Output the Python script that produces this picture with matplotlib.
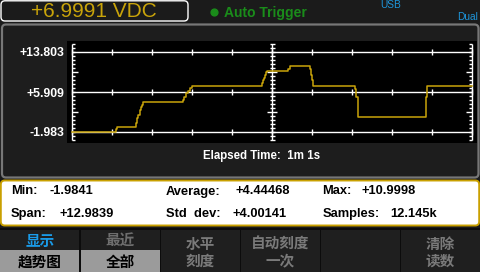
import numpy as np
import matplotlib
matplotlib.use("Agg")
import matplotlib.pyplot as plt
from matplotlib.patches import FancyBboxPatch, Rectangle, Circle

# Readings shown on the meter
reading_text = "+6.9991 VDC"
elapsed_s = 61.0

# Trend trace (seconds, volts), stepped
trace_t = [0, 6.71, 6.91, 9.71, 9.91, 10.07, 10.32, 10.48, 10.68, 10.87,
           16.97, 17.13, 17.39, 17.64, 17.95, 18.25, 29.02, 29.17, 29.33,
           29.48, 29.63, 29.78, 32.99, 33.20, 36.30, 36.45, 36.60, 36.75,
           43.16, 43.31, 43.57, 43.66, 53.94, 54.03, 54.18, 61.0]
trace_v = [-1.98, -1.47, -1.0, -0.21, 0.78, 1.29, 2.42, 2.95, 3.40, 4.0,
           4.39, 4.98, 5.71, 6.17, 6.70, 7.0, 7.68, 8.20, 8.73, 9.32, 9.78,
           10.0, 10.5, 11.0, 10.5, 9.32, 8.34, 7.0, 6.56, 4.92, 2.08, 1.0,
           1.96, 4.92, 7.0, 7.0]

# Y grid values / labels
grid_v = [-1.983, 5.909, 13.803]
grid_labels = ["-1.983", "+5.909", "+13.803"]

# Statistics panel
stat_names = [["Min:", "Average:", "Max:"], ["Span:", "Std  dev:", "Samples:"]]
stat_values = [["-1.9841", "+4.44468", "+10.9998"], ["+12.9839", "+4.00141", "12.145k"]]

# Soft keys
key_top = ["显示", "最近", "水平", "自动刻度", "", "清除"]
key_bottom = ["趋势图", "全部", "刻度", "一次", "", "读数"]

LATIN = "Liberation Sans"
CJK = ["Noto Sans CJK SC", "DejaVu Sans"]

BG = "#1b1b1b"
GOLD = "#c9a40a"
W, H = 480, 272

fig = plt.figure(figsize=(W / 100, H / 100), dpi=100, facecolor=BG)

# background layer in pixel coords (y down)
bg = fig.add_axes([0, 0, 1, 1])
bg.set_xlim(0, W)
bg.set_ylim(H, 0)
bg.axis("off")

# main panel
bg.add_patch(FancyBboxPatch((2, 24.5), 476.5, 153, boxstyle="round,pad=0,rounding_size=4",
                            fc="#1d1d1d", ec="#777777", lw=1.6))
# readout box
bg.add_patch(FancyBboxPatch((1, 0.8), 187, 20.2, boxstyle="round,pad=0,rounding_size=4",
                            fc=BG, ec="white", lw=1.0))
bg.text(94, 11.5, reading_text, color=GOLD, fontsize=15, family=LATIN,
        ha="center", va="center")
bg.add_patch(Circle((214.5, 12.5), 3.4, color="#1a8c1a"))
bg.text(224, 12.5, "Auto Trigger", color="#1a8c1a", fontsize=10, family=LATIN,
        weight="bold", ha="left", va="center")
bg.text(380, 5.5, "USB", color="#1e96dc", fontsize=7.3, family=LATIN, ha="left", va="center")
bg.text(478, 17.5, "Dual", color="#1e96dc", fontsize=7.3, family=LATIN, ha="right", va="center")

bg.text(262, 156.5, "Elapsed Time:  1m 1s", color="white", fontsize=8.3, family=LATIN,
        weight="bold", ha="center", va="center")

# statistics box
bg.add_patch(FancyBboxPatch((0.8, 180.5), 478.4, 45, boxstyle="round,pad=0,rounding_size=4",
                            fc="white", ec="#c9a000", lw=1.4))
name_x = [11, 166, 322.5]
val_x = [[50, 235, 361.5], [59, 232.5, 390.5]]
row_y = [191.5, 214]
for r in range(2):
    for c in range(3):
        bg.text(name_x[c], row_y[r], stat_names[r][c], fontsize=9.3, family=LATIN,
                weight="bold", color="black", ha="left", va="center")
        bg.text(val_x[r][c], row_y[r], stat_values[r][c], fontsize=9.3, family=LATIN,
                weight="bold", color="black", ha="left", va="center")

# soft keys
bg.add_patch(Rectangle((0, 228), W, 44, fc="#0c0c0c", ec="none"))
for i in range(6):
    x0 = i * 80 + (1 if i else 0)
    bg.add_patch(Rectangle((x0, 230), 78.5 if i else 79, 42, fc="#1f1f1f", ec="none"))
    cx = i * 80 + 40
    if i < 2:
        bg.add_patch(Rectangle((x0, 250), 78.5 if i else 79, 22, fc="#9b9b9b", ec="none"))
        top_col = "#1a9be8" if i == 0 else "#6e6e6e"
        bg.text(cx, 240.5, key_top[i], color=top_col, fontsize=10.5, family=CJK,
                weight="bold", ha="center", va="center")
        bg.text(cx, 261.5, key_bottom[i], color="black", fontsize=10.5, family=CJK,
                weight="bold", ha="center", va="center")
    else:
        bg.text(cx, 243.5, key_top[i], color="#7a7a7a", fontsize=10.5, family=CJK,
                weight="bold", ha="center", va="center")
        bg.text(cx, 260.5, key_bottom[i], color="#7a7a7a", fontsize=10.5, family=CJK,
                weight="bold", ha="center", va="center")

# plot area: black box from px (67,41) to (477,143)
ax = fig.add_axes([67 / W, 1 - 143 / H, 410 / W, 102 / H], facecolor="black")
s_px = elapsed_s / 400.0                       # seconds per pixel
v_px = (grid_v[2] - grid_v[0]) / 80.0          # volts per pixel
ax.set_xlim(-5 * s_px, elapsed_s + 5 * s_px)
ax.set_ylim(grid_v[0] - 11 * v_px, grid_v[2] + 11 * v_px)
for sp in ax.spines.values():
    sp.set_visible(False)
ax.set_xticks([])
ax.set_yticks(grid_v, grid_labels)
ax.tick_params(axis="y", length=0, pad=1.6, labelcolor="white", labelsize=8.8)
for lbl in ax.get_yticklabels():
    lbl.set_family(LATIN)
    lbl.set_weight("bold")

lw = 1.0
# horizontal grid lines with division ticks
div_t = np.linspace(0, elapsed_s, 11)
for g in grid_v:
    ax.hlines(g, 0, elapsed_s, color="white", lw=lw, zorder=2)
    ax.vlines(div_t, g - 3 * v_px, g + 3 * v_px, color="white", lw=lw, zorder=2)

# vertical axes (left, centre, right) with minor ticks every 4 px
k = np.arange(-2, 23)
tick_v = grid_v[0] + k * 4 * v_px
is_long = (k == 5) | (k == 15)
for xa, side in [(0, 1), (elapsed_s / 2, 0), (elapsed_s, -1)]:
    ax.vlines(xa, tick_v[0], tick_v[-1], color="white", lw=lw, zorder=2)
    for tv, lg in zip(tick_v, is_long):
        ln = (6 if lg else 3) * s_px
        if side == 0:
            ln = (4.7 if lg else 2.5) * s_px
            ax.hlines(tv, xa - ln, xa + ln, color="white", lw=lw, zorder=2)
        else:
            ax.hlines(tv, xa, xa + side * ln, color="white", lw=lw, zorder=2)

# trend trace
ax.plot(trace_t, trace_v, drawstyle="steps-post", color=GOLD, lw=1.1, zorder=3)

fig.savefig("out.png", dpi=100, facecolor=BG)
